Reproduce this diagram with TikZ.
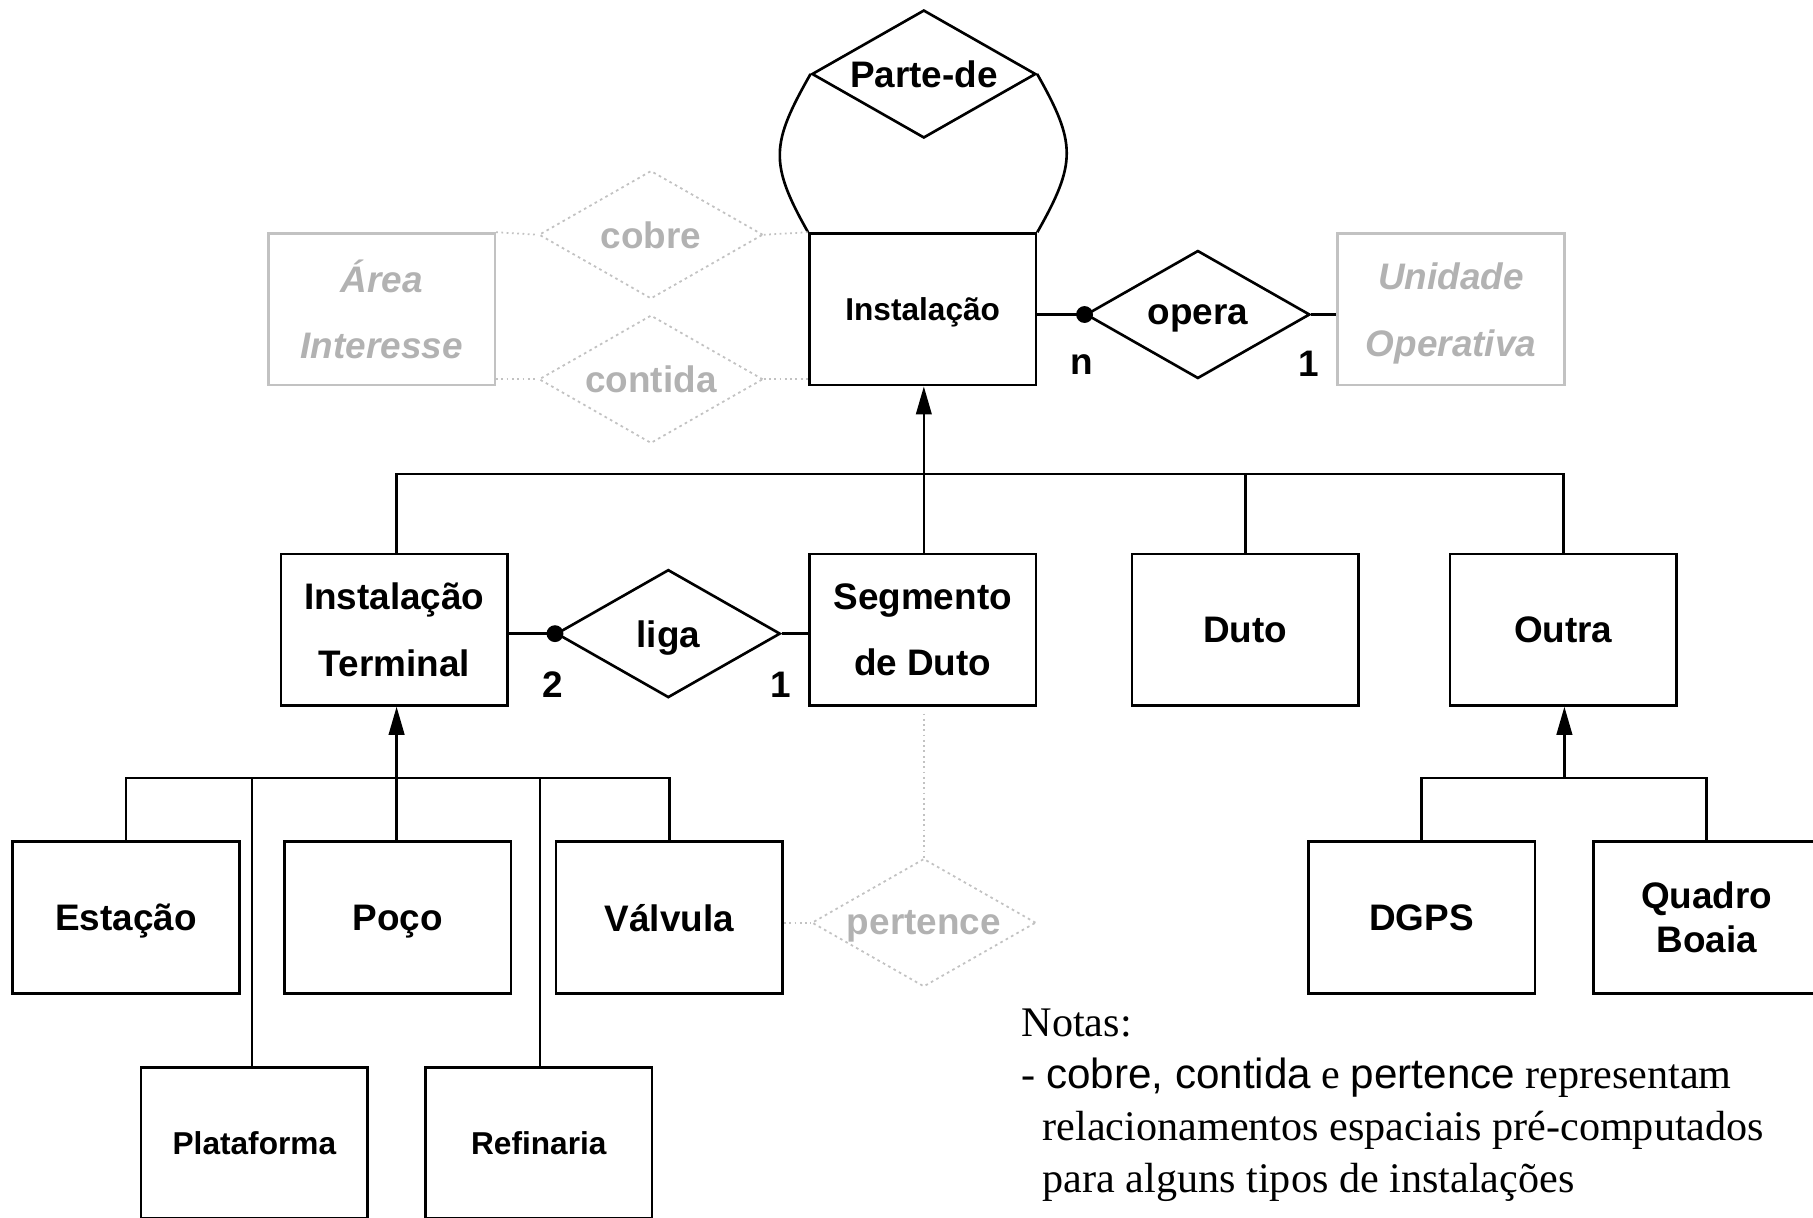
\documentclass[tikz,border=0pt]{standalone}
\usepackage{fontspec}
\setmainfont{Liberation Serif}
\setsansfont{Liberation Sans}
\usepackage{tikz}
\usetikzlibrary{shapes.geometric, arrows.meta, positioning, calc}

\definecolor{ghosttext}{gray}{0.70}
\definecolor{ghostline}{gray}{0.76}

\begin{document}
\begin{tikzpicture}[
    x=0.11563mm, y=-0.11563mm,
    entity/.style={rectangle, draw, line width=0.75pt, minimum width=2.266cm, minimum height=1.515cm, inner sep=0pt, text depth=0pt, align=center, font=\sffamily\bfseries\fontsize{10.5}{19}\selectfont},
    smallentity/.style={entity, font=\sffamily\bfseries\fontsize{9}{11}\selectfont},
    tightentity/.style={entity, font=\sffamily\bfseries\fontsize{10.5}{12.5}\selectfont},
    ghostentity/.style={entity, draw=ghostline, text=ghosttext, font=\sffamily\bfseries\itshape\fontsize{10.5}{19}\selectfont},
    relation/.style={diamond, draw, line width=0.75pt, aspect=1.75, minimum width=2.24cm, minimum height=1.28cm, inner sep=0pt, text depth=0pt, font=\sffamily\bfseries\fontsize{10.5}{12}\selectfont},
    ghostrelation/.style={relation, draw=ghostline, densely dotted, line width=0.5pt, text=ghosttext},
    card/.style={inner sep=0pt, font=\sffamily\bfseries\fontsize{10.5}{12}\selectfont},
    link/.style={line width=0.75pt},
    isa/.style={-{Triangle[length=8pt, width=4.4pt]}, line width=0.75pt},
    spatial/.style={draw=ghostline, densely dotted, line width=0.5pt}
]
\useasboundingbox (0,0) rectangle (1568,1053);

% Top level
\node[relation] (partede) at (799,64) {Parte-de};
\node[smallentity] (inst) at (798,267.5) {Instalação};
\node[ghostentity] (area) at (330,267.5) {Área\\Interesse};
\node[ghostentity] (unid) at (1255,267.5) {Unidade\\Operativa};
\node[ghostrelation] (cobre) at (563,203) {cobre};
\node[ghostrelation] (contida) at (563,328) {contida};
\node[relation] (opera) at (1036,272) {opera};

% Specializations of Instalacao
\node[entity] (term) at (341,544.5) {Instalação\\Terminal};
\node[entity] (segm) at (798,544.5) {Segmento\\de Duto};
\node[entity] (duto) at (1077,544.5) {Duto};
\node[entity] (outra) at (1352,544.5) {Outra};
\node[relation] (liga) at (578,548) {liga};

% Specializations of Instalacao Terminal
\node[entity] (estacao) at (109,793.5) {Estação};
\node[entity] (poco) at (344,793.5) {Poço};
\node[entity] (valvula) at (579,793.5) {Válvula};
\node[smallentity] (plataf) at (220,988.5) {Plataforma};
\node[smallentity] (refin) at (466,988.5) {Refinaria};
\node[ghostrelation] (pertence) at (799,798) {pertence};

% Specializations of Outra
\node[entity] (dgps) at (1229.5,793.5) {DGPS};
\node[tightentity] (quadro) at (1476,793.5) {Quadro\\Boaia};

% Cardinalities
\node[card] (cn) at (936,315) {n};
\node[card] (c1op) at (1132,315) {1};
\node[card] (c2) at (478,592) {2};
\node[card] (c1liga) at (675,592) {1};

% Notes
\node[anchor=north west, align=left, inner sep=0pt, font=\fontsize{12}{14.8}\selectfont] (notas) at (883,872)
    {Notas:\\- {\sffamily cobre, contida} e {\sffamily pertence} representam\\
     \hspace*{6pt}relacionamentos espaciais pré-computados\\
     \hspace*{6pt}para alguns tipos de instalações};

% Parte-de loop
\draw[link] (partede.west) .. controls +(-34,60) and +(-34,-60) .. (inst.north west);
\draw[link] (partede.east) .. controls +(34,60) and +(34,-60) .. (inst.north east);

% Relationships
\draw[link] (inst.east |- opera.west) -- (opera.west);
\fill (opera.west) circle (2.4pt);
\draw[link] (opera.east) -- (unid.west |- opera.east);
\draw[link] (term.east |- liga.west) -- (liga.west);
\fill (liga.west) circle (2.4pt);
\draw[link] (liga.east) -- (segm.west |- liga.east);

% Spatial relationships
\draw[spatial] (area.north east) -- (cobre.west);
\draw[spatial] (cobre.east) -- (inst.north west);
\draw[spatial] (area.east |- contida.west) -- (contida.west);
\draw[spatial] (contida.east) -- (inst.west |- contida.east);
\draw[spatial] ($(segm.south)+(1,6)$) -- (pertence.north);
\draw[spatial] (valvula.east |- pertence.west) -- (pertence.west);

% Generalization hierarchies
\coordinate (hub1) at (799,410);
\draw[isa] (hub1) -- (inst.south -| hub1);
\draw[link] (term.north -| 343,0) |- (hub1) -| (outra.north);
\draw[link] (hub1) -- (segm.north -| hub1);
\draw[link] (duto.north) -- (duto.north |- hub1);

\coordinate (hub2) at (343,673);
\draw[isa] (hub2) -- (term.south -| hub2);
\draw[link] (estacao.north) |- (hub2) -| (valvula.north);
\draw[link] (hub2) -- (poco.north -| hub2);
\draw[link] (plataf.north -| 218,0) -- (218,673);
\draw[link] (refin.north -| 467,0) -- (467,673);

\coordinate (hub3) at (1353,673);
\draw[isa] (hub3) -- (outra.south -| hub3);
\draw[link] (dgps.north) |- (hub3) -| (quadro.north);

\end{tikzpicture}
\end{document}
